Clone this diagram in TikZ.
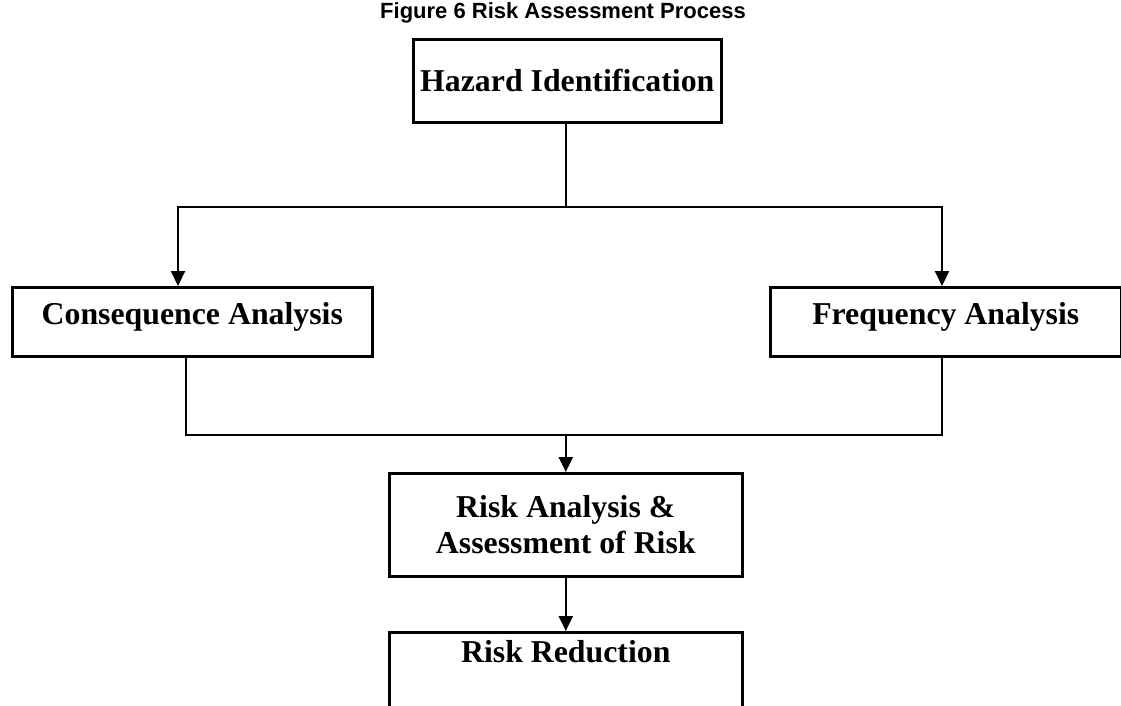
\documentclass[tikz,border=0pt]{standalone}
\usepackage{fontspec}
\setmainfont{Liberation Serif}
\newfontfamily\titlefont{Liberation Sans}
\usetikzlibrary{arrows.meta}
\tikzset{
  boxnode/.style={draw, line width=2.6pt, anchor=north west, inner xsep=0pt, inner ysep=0pt,
    font=\fontsize{31.8}{36}\selectfont\bfseries, align=center},
  conn/.style={line width=2.2pt},
  arr/.style={conn, -{Triangle[width=14pt,length=15pt]}}
}
\begin{document}
\begin{tikzpicture}[x=1pt,y=-1pt]
\useasboundingbox[fill=white] (0,0) rectangle (1121,706);
\node[anchor=base, font=\fontsize{22}{26}\selectfont\titlefont\bfseries] (title) at (563,19) {Figure 6 Risk Assessment Process};
\node[boxnode, minimum width=308pt, text height=52pt, text depth=31pt] (haz) at (412,38) {Hazard Identification};
\node[boxnode, minimum width=360pt, text height=37pt, text depth=32pt] (cons) at (11,286) {Consequence Analysis};
\node[boxnode, minimum width=351pt, text height=37pt, text depth=32pt] (freq) at (769,286) {Frequency Analysis};
\node[boxnode, minimum width=353pt, minimum height=103pt] (ra) at (388,472) {Risk Analysis \&\\Assessment of Risk};
\node[boxnode, minimum width=353pt, text height=30pt, text depth=80pt] (rr) at (388,631) {Risk Reduction};
\coordinate (hj) at (566,207);
\coordinate (hl) at (178,207);
\coordinate (hr) at (942,207);
\coordinate (bl) at (186,435);
\coordinate (br) at (942,435);
\draw[conn] (haz.south -| hj) -- (hj);
\draw[arr] (hj) -- (hl) -- (hl |- cons.north);
\draw[arr] (hj) -- (hr) -- (hr |- freq.north);
\draw[conn] (cons.south -| bl) -- (bl) -- (br) -- (freq.south -| br);
\draw[arr] (bl -| ra.north) -- (ra.north);
\draw[arr] (ra.south) -- (rr.north);
\end{tikzpicture}
\end{document}
